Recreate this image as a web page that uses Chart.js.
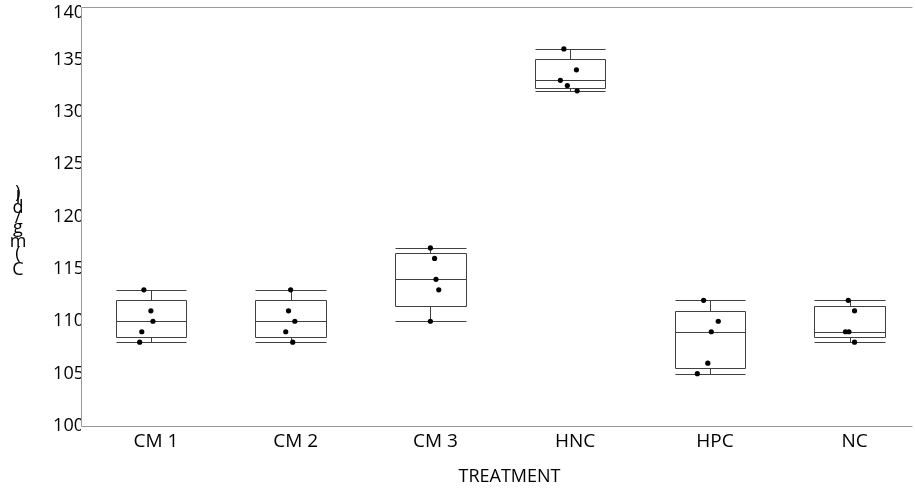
<!DOCTYPE html>
<html>
<head>
<meta charset="utf-8">
<script src="https://cdn.jsdelivr.net/npm/chart.js@4.4.1/dist/chart.umd.min.js"></script>
<style>
  html, body { margin: 0; padding: 0; background: #fff; overflow: hidden; }
  #wrap { width: 915px; height: 488px; }
</style>
</head>
<body>
<div id="wrap"><canvas id="c" width="915" height="488"></canvas></div>
<script>
// categories and raw values per treatment (5 animals each)
var categories = ['CM 1', 'CM 2', 'CM 3', 'HNC', 'HPC', 'NC'];
var cm1 = [113, 111, 110, 109, 108];
var cm2 = [113, 111, 110, 109, 108];
var cm3 = [117, 116, 114, 113, 110];
var hnc = [136, 134, 133, 132.5, 132];
var hpc = [112, 110, 109, 106, 105];
var nc  = [112, 111, 109, 109, 108];
// horizontal jitter of the dots, in category units
var cm1Jit = [-0.05, 0, 0.015, -0.065, -0.08];
var cm2Jit = [0, -0.015, 0.03, -0.035, 0.015];
var cm3Jit = [0, 0.03, 0.04, 0.06, 0];
var hncJit = [-0.045, 0.045, -0.07, -0.02, 0.05];
var hpcJit = [-0.045, 0.06, 0.01, -0.015, -0.09];
var ncJit  = [-0.01, 0.035, -0.03, -0.005, 0.035];
var yTicks = [100, 105, 110, 115, 120, 125, 130, 135, 140];
var yTitle = 'C (mg/dl)';
var xTitle = 'TREATMENT';

var groups = [cm1, cm2, cm3, hnc, hpc, nc];
var jitters = [cm1Jit, cm2Jit, cm3Jit, hncJit, hpcJit, ncJit];

var FONT = '"Open Sans", "Noto Sans", sans-serif';
var BOX_HALF = 0.253;

function quant(sorted, p) {
    var n = sorted.length;
    var pos = p * (n + 1) - 1;
    if (pos <= 0) return sorted[0];
    if (pos >= n - 1) return sorted[n - 1];
    var lo = Math.floor(pos);
    return sorted[lo] + (pos - lo) * (sorted[lo + 1] - sorted[lo]);
}

function stats(vals) {
    var s = vals.slice().sort(function (a, b) { return a - b; });
    var q1 = quant(s, 0.25), q3 = quant(s, 0.75), med = quant(s, 0.5);
    var iqr = q3 - q1;
    var lo = s.filter(function (v) { return v >= q1 - 1.5 * iqr; })[0];
    var hi = s.filter(function (v) { return v <= q3 + 1.5 * iqr; }).pop();
    return { q1: q1, q3: q3, med: med, lo: lo, hi: hi };
}

var points = [];
groups.forEach(function (vals, i) {
    vals.forEach(function (v, j) {
        points.push({ x: i + 1 + jitters[i][j], y: v });
    });
});

var boxPlugin = {
    id: 'boxes',
    beforeDatasetsDraw: function (chart) {
        var ctx = chart.ctx, a = chart.chartArea;
        var x = chart.scales.x, y = chart.scales.y;
        ctx.save();
        // hide the part of tick labels running into the plot
        ctx.fillStyle = '#fff';
        ctx.fillRect(a.left, a.top, a.right - a.left, a.bottom - a.top);

        var L = Math.round(a.left) + 0.5, T = Math.round(a.top) + 0.5, B = Math.round(a.bottom) + 0.5;
        ctx.strokeStyle = '#9a9a9a';
        ctx.lineWidth = 1;
        ctx.beginPath();
        ctx.moveTo(a.right, T); ctx.lineTo(L, T); ctx.lineTo(L, B); ctx.lineTo(a.right, B);
        ctx.stroke();

        // y tick labels
        ctx.fillStyle = '#000';
        ctx.font = '18px ' + FONT;
        ctx.textAlign = 'right';
        ctx.textBaseline = 'middle';
        yTicks.forEach(function (t) {
            var py = Math.max(y.getPixelForValue(t), a.top + 6);
            ctx.save();
            ctx.beginPath(); ctx.rect(0, 0, a.left, chart.height); ctx.clip();
            ctx.fillText(String(t), a.left + 3, py);
            ctx.restore();
        });

        function px(v) { return Math.round(x.getPixelForValue(v)) + 0.5; }
        function py(v) { return Math.round(y.getPixelForValue(v)) + 0.5; }

        groups.forEach(function (vals, i) {
            var s = stats(vals), c = i + 1;
            var l = px(c - BOX_HALF), r = px(c + BOX_HALF), cx = px(c);
            ctx.strokeStyle = '#404040';
            ctx.beginPath();
            ctx.rect(l, py(s.q3), r - l, py(s.q1) - py(s.q3));
            ctx.moveTo(l, py(s.med)); ctx.lineTo(r, py(s.med));
            ctx.moveTo(cx, py(s.q3)); ctx.lineTo(cx, py(s.hi));
            ctx.moveTo(cx, py(s.q1)); ctx.lineTo(cx, py(s.lo));
            ctx.moveTo(l, py(s.hi)); ctx.lineTo(r, py(s.hi));
            ctx.moveTo(l, py(s.lo)); ctx.lineTo(r, py(s.lo));
            ctx.stroke();
        });
        ctx.restore();
    },
    afterDraw: function (chart) {
        var ctx = chart.ctx, a = chart.chartArea;
        ctx.save();
        ctx.fillStyle = '#000';
        ctx.font = '18px ' + FONT;
        ctx.textAlign = 'center';
        ctx.textBaseline = 'alphabetic';
        ctx.fillText(xTitle, (a.left + 922) / 2 + 8, 482);

        // upright glyphs stacked upwards, like the original export
        ctx.font = '18px ' + FONT;
        ctx.textBaseline = 'middle';
        var yy = 276;
        yTitle.split('').forEach(function (ch) {
            var w = ctx.measureText(ch).width;
            yy -= w / 2 + 0.6;
            ctx.fillText(ch, 18, yy);
            yy -= w / 2 + 0.6;
        });
        ctx.restore();
    }
};

var chart = new Chart(document.getElementById('c'), {
    type: 'scatter',
    data: {
        datasets: [{
            data: points,
            pointRadius: 2.6,
            pointHoverRadius: 2.6,
            backgroundColor: '#000',
            borderWidth: 0
        }]
    },
    options: {
        responsive: false,
        animation: false,
        events: [],
        layout: { padding: { top: 7, right: 0, bottom: 0, left: 0 } },
        plugins: { legend: { display: false }, tooltip: { enabled: false } },
        scales: {
            x: {
                type: 'linear',
                min: 0.5,
                max: 6.449,
                border: { display: false },
                grid: { display: false, drawTicks: false },
                afterBuildTicks: function (scale) {
                    scale.ticks = categories.map(function (c, i) { return { value: i + 1 }; });
                },
                ticks: {
                    autoSkip: false,
                    maxRotation: 0,
                    labelOffset: 5,
                    padding: 4,
                    color: '#000',
                    font: { family: FONT, size: 19 },
                    callback: function (v) { return categories[v - 1] || ''; }
                },
                afterFit: function (scale) { scale.height = 62; }
            },
            y: {
                min: 100,
                max: 140,
                border: { display: false },
                grid: { display: false, drawTicks: false },
                ticks: { display: false, stepSize: 5 },
                afterFit: function (scale) { scale.width = 81; scale.paddingTop = 0; scale.paddingBottom = 0; }
            }
        }
    },
    plugins: [boxPlugin]
});
</script>
</body>
</html>
